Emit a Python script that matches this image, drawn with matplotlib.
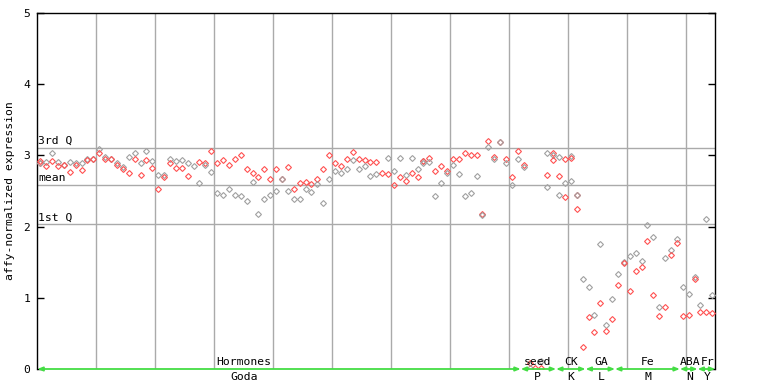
import matplotlib
matplotlib.use("Agg")
import matplotlib.pyplot as plt
import matplotlib.transforms as mtransforms

# ---------------- data ----------------
columns = [
    [2.889, 2.889, 2.917], [2.907, 2.851], [3.029, 2.917], [2.907, 2.851], [2.870, 2.870],
    [2.907, 2.767], [2.898, 2.870], [2.889, 2.795], [2.945, 2.935], [2.954, 2.954],
    [3.085, 3.029], [2.982, 2.954], [2.954, 2.954], [2.898, 2.870], [2.832, 2.804],
    [2.982, 2.748], [3.038, 2.945], [2.889, 2.720], [3.057, 2.935], [2.917, 2.823],
    [2.720, 2.533], [2.720, 2.701], [2.945, 2.889], [2.926, 2.823], [2.935, 2.823],
    [2.898, 2.711], [2.851], [2.907, 2.608], [2.889, 2.870], [3.057, 2.767],
    [2.889, 2.477], [2.935, 2.439], [2.861, 2.533], [2.954, 2.439], [3.010, 2.430],
    [2.804, 2.355], [2.748, 2.626], [2.701, 2.177], [2.804, 2.383], [2.664, 2.439],
    [2.814, 2.495],
    [2.673, 2.673], [2.832, 2.495], [2.523, 2.383], [2.608, 2.383], [2.626, 2.533],
    [2.598, 2.486], [2.673, 2.598], [2.814, 2.327], [3.001, 2.664], [2.889, 2.776],
    [2.851, 2.757], [2.954, 2.814], [3.048, 2.935], [2.945, 2.804], [2.935, 2.851],
    [2.907, 2.711], [2.907, 2.739], [2.748], [2.963, 2.739], [2.776, 2.580],
    [2.963, 2.692], [2.729, 2.636], [2.963, 2.748], [2.804, 2.692], [2.917, 2.917, 2.889],
    [2.963, 2.907], [2.786, 2.430], [2.851, 2.617], [2.786, 2.757], [2.945, 2.861],
    [2.945, 2.739], [3.038, 2.430], [3.001, 2.477], [3.010, 2.711], [2.177, 2.158],
    [3.198, 3.113], [2.982, 2.945], [3.188, 3.188], [2.945, 2.889], [2.692, 2.580],
    [3.057, 2.945],
    [2.870, 2.842], [0.08, 0.02], [0.02], [0.117, 0.02], [3.029, 2.720, 2.561],
    [3.029, 3.001, 2.935], [2.973, 2.711, 2.448], [2.945, 2.608, 2.411], [2.992, 2.963, 2.636],
    [2.444, 2.444, 2.243],
    [1.259, 0.314], [1.147, 0.726], [0.754, 0.520], [1.756, 0.922], [0.613, 0.529],
    [0.979, 0.698], [1.334, 1.184], [1.503, 1.484], [1.587, 1.091], [1.634, 1.372],
    [1.521, 1.437], [2.027, 1.793], [1.859, 1.035], [0.875, 0.744], [1.559, 0.875],
    [1.671, 1.596], [1.830, 1.765], [1.147, 0.744], [1.053, 0.754], [1.297, 1.259],
    [0.894, 0.801], [2.102, 0.801], [1.035, 0.782],
]

group_top = ["Hormones", "seed", "CK", "GA", "Fe", "ABA", "Fr"]
group_bottom = ["Goda", "P", "K", "L", "M", "N", "Y"]
group_bounds = [-0.5, 81.5, 87.5, 92.5, 97.5, 108.5, 111.5, 114.5]
label_pos = [34.5, 84.4, 90.0, 95.1, 103.1, 110.2, 113.2]

q3_value = 3.10
mean_value = 2.585
q1_value = 2.03
yticks = [0, 1, 2, 3, 4, 5]

# ---------------- figure ----------------
W, H = 768, 384
fig = plt.figure(figsize=(W / 100, H / 100), dpi=100)
ax = fig.add_axes([37 / W, (H - 369) / H, (715 - 37) / W, (369 - 13) / H])
font = "DejaVu Sans Mono"
fs = 8.2

ax.set_xlim(-0.56, 114.46)
ax.set_ylim(0, 5)

# vertical grid
for k in range(11):
    ax.axvline(9.5 + 10 * k, color="#aaaaaa", lw=1, zorder=1)
# quartile lines
for v in (q3_value, mean_value, q1_value):
    ax.axhline(v, color="#aaaaaa", lw=1, zorder=1)

trans_lab = mtransforms.blended_transform_factory(ax.transAxes, ax.transData)
ax.text(0.002, q3_value + 0.03, "3rd Q", transform=trans_lab, fontsize=fs,
        family=font, va="bottom", ha="left")
ax.text(0.002, mean_value + 0.03, "mean", transform=trans_lab, fontsize=fs,
        family=font, va="bottom", ha="left")
ax.text(0.002, q1_value + 0.03, "1st Q", transform=trans_lab, fontsize=fs,
        family=font, va="bottom", ha="left")

# points
k = 0
for i, col in enumerate(columns):
    for v in col:
        c = "#ff5050" if k % 2 == 0 else "#a0a0a0"
        ax.plot(i, v, marker="D", ms=3.0, mfc="none", mec=c, mew=0.8,
                ls="none", zorder=3)
        k += 1

# green group arrows along bottom
for a, b in zip(group_bounds[:-1], group_bounds[1:]):
    ax.annotate("", xy=(b, 0), xytext=(a, 0),
                arrowprops=dict(arrowstyle="<|-|>,head_length=0.3,head_width=0.12",
                                color="#44dd44", lw=1.3, shrinkA=0, shrinkB=0),
                annotation_clip=False, zorder=4)

trans_x = mtransforms.blended_transform_factory(ax.transData, ax.transAxes)
for lt, lb, xp in zip(group_top, group_bottom, label_pos):
    ax.text(xp, 7 / 356, lt, transform=trans_x, fontsize=fs, family=font,
            ha="center", va="center", zorder=5)
    ax.text(xp, -8 / 356, lb, transform=trans_x, fontsize=fs, family=font,
            ha="center", va="center")

# axes styling
ax.set_xticks([])
ax.set_yticks(yticks)
ax.set_yticklabels([str(t) for t in yticks], fontsize=fs, family=font)
ax.tick_params(axis="y", direction="in", length=5, width=1, pad=5,
               right=True, left=True)
for s in ("left", "right", "top"):
    ax.spines[s].set_color("black")
    ax.spines[s].set_linewidth(1)
ax.spines["bottom"].set_visible(False)

fig.text(10 / W, 1 - 191 / H, "affy-normalized expression", rotation=90,
         fontsize=fs, family=font, ha="center", va="center")

fig.savefig("out.png", dpi=100)
